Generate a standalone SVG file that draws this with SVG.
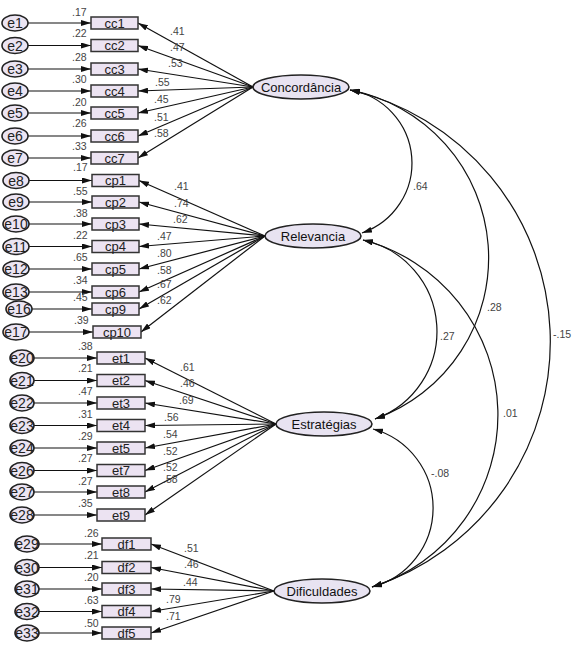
<svg xmlns="http://www.w3.org/2000/svg" width="578" height="662" viewBox="0 0 578 662">
<defs>
<marker id="ah" viewBox="0 0 10 6" refX="10" refY="3" markerWidth="10" markerHeight="6" markerUnits="userSpaceOnUse" orient="auto-start-reverse"><path d="M0,0 L10,3 L0,6 z" fill="#111"/></marker>
</defs>
<style>
.err{fill:#ebe4f2;stroke:#222;stroke-width:1.6}
.box{fill:#ece3f2;stroke:#333;stroke-width:1.5}
.lat{fill:#e8e3f1;stroke:#222;stroke-width:1.6}
.et{font-family:"Liberation Sans",Arial,sans-serif;font-size:14px;fill:#222;text-anchor:middle}
.bt{font-family:"Liberation Sans",Arial,sans-serif;font-size:13px;fill:#222;text-anchor:middle}
.lt{font-family:"Liberation Sans",Arial,sans-serif;font-size:13px;fill:#111;text-anchor:middle}
.num{font-family:"Liberation Sans",Arial,sans-serif;font-size:10.5px;fill:#444}
.c path{fill:none;stroke:#111;stroke-width:1.2}
.c .a{marker-end:url(#ah)}
.c .d{marker-start:url(#ah);marker-end:url(#ah)}
</style>
<rect width="578" height="662" fill="#fff"/>
<g id="connectors" class="c">
<path class="a" d="M28,23 H91"/><path class="a" d="M28,45.5 H91"/><path class="a" d="M28,69 H91"/><path class="a" d="M28,91 H91"/><path class="a" d="M28,113 H91"/><path class="a" d="M28,136 H91"/><path class="a" d="M28,158 H91"/>
<path class="a" d="M253,87 L138,23"/><path class="a" d="M253,87 L138,45.5"/><path class="a" d="M253,87 L138,69"/><path class="a" d="M253,87 L138,91"/><path class="a" d="M253,87 L138,113"/><path class="a" d="M253,87 L138,136"/><path class="a" d="M253,87 L138,158"/>
<path class="a" d="M29,180.5 H92"/><path class="a" d="M29,202 H92"/><path class="a" d="M29,224 H92"/><path class="a" d="M29,246.5 H92"/><path class="a" d="M29,269 H92"/><path class="a" d="M29,292 H92"/><path class="a" d="M32,309 H92"/><path class="a" d="M29,332 H93"/>
<path class="a" d="M265,236 L139,180.5"/><path class="a" d="M265,236 L139,202"/><path class="a" d="M265,236 L139,224"/><path class="a" d="M265,236 L139,246.5"/><path class="a" d="M265,236 L139,269"/><path class="a" d="M265,236 L139,292"/><path class="a" d="M265,236 L139,309"/><path class="a" d="M265,236 L141,332"/>
<path class="a" d="M34,358 H97"/><path class="a" d="M34,380.5 H97"/><path class="a" d="M34,403 H97"/><path class="a" d="M34,425.5 H97"/><path class="a" d="M34,448 H97"/><path class="a" d="M34,470.5 H97"/><path class="a" d="M34,492 H97"/><path class="a" d="M34,515 H97"/>
<path class="a" d="M276,424 L145,358"/><path class="a" d="M276,424 L145,380.5"/><path class="a" d="M276,424 L145,403"/><path class="a" d="M276,424 L145,425.5"/><path class="a" d="M276,424 L145,448"/><path class="a" d="M276,424 L145,470.5"/><path class="a" d="M276,424 L145,492"/><path class="a" d="M276,424 L145,515"/>
<path class="a" d="M39,544 H102"/><path class="a" d="M39,567.5 H102"/><path class="a" d="M39,589 H102"/><path class="a" d="M39,611.5 H102"/><path class="a" d="M39,633 H102"/>
<path class="a" d="M274,591 L151,544"/><path class="a" d="M274,591 L151,567.5"/><path class="a" d="M274,591 L151,589"/><path class="a" d="M274,591 L151,611.5"/><path class="a" d="M274,591 L151,633"/>
<path class="d" d="M350,90 A74,74 0 0 1 362,233"/>
<path class="d" d="M350,90 A171,171 0 0 1 375,419"/>
<path class="d" d="M363,240 A93.2,93.2 0 0 1 375,419"/>
<path class="d" d="M363,240 A180.7,180.7 0 0 1 372,587"/>
<path class="d" d="M350,90 A258.1,258.1 0 0 1 372,587"/>
<path class="d" d="M373,429 A81.8,81.8 0 0 1 372,587"/>
</g>
<g id="labels" class="num">
<text x="72" y="15.5">.17</text><text x="72" y="36.5">.22</text><text x="72" y="60.5">.28</text><text x="72" y="82.5">.30</text><text x="72" y="105.5">.20</text><text x="72" y="126.5">.26</text><text x="72" y="149.5">.33</text>
<text x="170" y="34.5">.41</text><text x="170" y="50.5">.47</text><text x="168" y="66.5">.53</text><text x="155" y="85.5">.55</text><text x="154" y="102.5">.45</text><text x="154" y="120.5">.51</text><text x="154" y="136.5">.58</text>
<text x="73" y="170.5">.17</text><text x="73" y="194.5">.55</text><text x="73" y="216.5">.38</text><text x="73" y="238.5">.22</text><text x="73" y="260.5">.65</text><text x="73" y="283.5">.34</text><text x="73" y="300.5">.45</text><text x="74" y="323.5">.39</text>
<text x="174" y="189.5">.41</text><text x="174" y="206.5">.74</text><text x="173" y="222.5">.62</text><text x="157" y="239.5">.47</text><text x="157" y="256.5">.80</text><text x="157" y="273.5">.58</text><text x="157" y="287.5">.67</text><text x="157" y="303.5">.62</text>
<text x="78" y="349.5">.38</text><text x="78" y="371.5">.21</text><text x="78" y="394.5">.47</text><text x="78" y="417.5">.31</text><text x="78" y="439.5">.29</text><text x="78" y="461.5">.27</text><text x="78" y="484.5">.27</text><text x="78" y="506.5">.35</text>
<text x="180" y="370.5">.61</text><text x="180" y="386.5">.46</text><text x="179" y="403.5">.69</text><text x="164" y="420.5">.56</text><text x="163" y="437.5">.54</text><text x="163" y="454.5">.52</text><text x="163" y="470.5">.52</text><text x="163" y="482.5">.58</text>
<text x="84" y="536.5">.26</text><text x="84" y="558.5">.21</text><text x="84" y="580.5">.20</text><text x="84" y="603.5">.63</text><text x="84" y="626.5">.50</text>
<text x="184" y="551.5">.51</text><text x="184" y="567.5">.46</text><text x="183" y="585.5">.44</text><text x="166" y="602.5">.79</text><text x="166" y="619.5">.71</text>
<text x="413" y="189.5">.64</text><text x="487" y="310.5">.28</text><text x="440" y="339.5">.27</text><text x="553" y="337.5">-.15</text><text x="503" y="416.5">.01</text><text x="431" y="476.5">-.08</text>
</g>
<g id="e1"><ellipse class="err" cx="15" cy="23" rx="13" ry="8"/><text class="et" x="15" y="28">e1</text></g>
<g id="e2"><ellipse class="err" cx="15" cy="45.5" rx="13" ry="8"/><text class="et" x="15" y="50.5">e2</text></g>
<g id="e3"><ellipse class="err" cx="15" cy="69" rx="13" ry="8"/><text class="et" x="15" y="74">e3</text></g>
<g id="e4"><ellipse class="err" cx="15" cy="91" rx="13" ry="8"/><text class="et" x="15" y="96">e4</text></g>
<g id="e5"><ellipse class="err" cx="15" cy="113" rx="13" ry="8"/><text class="et" x="15" y="118">e5</text></g>
<g id="e6"><ellipse class="err" cx="15" cy="136" rx="13" ry="8"/><text class="et" x="15" y="141">e6</text></g>
<g id="e7"><ellipse class="err" cx="15" cy="158" rx="13" ry="8"/><text class="et" x="15" y="163">e7</text></g>
<g id="e8"><ellipse class="err" cx="16" cy="180.5" rx="13" ry="8"/><text class="et" x="16" y="185.5">e8</text></g>
<g id="e9"><ellipse class="err" cx="16" cy="202" rx="13" ry="8"/><text class="et" x="16" y="207">e9</text></g>
<g id="e10"><ellipse class="err" cx="16" cy="224" rx="13" ry="8"/><text class="et" x="16" y="229">e10</text></g>
<g id="e11"><ellipse class="err" cx="16" cy="246.5" rx="13" ry="8"/><text class="et" x="16" y="251.5">e11</text></g>
<g id="e12"><ellipse class="err" cx="16" cy="269" rx="13" ry="8"/><text class="et" x="16" y="274">e12</text></g>
<g id="e13"><ellipse class="err" cx="16" cy="292" rx="13" ry="8"/><text class="et" x="16" y="297">e13</text></g>
<g id="e16"><ellipse class="err" cx="19" cy="309" rx="13" ry="8"/><text class="et" x="19" y="314">e16</text></g>
<g id="e17"><ellipse class="err" cx="16" cy="332" rx="13" ry="8"/><text class="et" x="16" y="337">e17</text></g>
<g id="e20"><ellipse class="err" cx="22" cy="358" rx="12" ry="8"/><text class="et" x="22" y="363">e20</text></g>
<g id="e21"><ellipse class="err" cx="22" cy="380.5" rx="12" ry="8"/><text class="et" x="22" y="385.5">e21</text></g>
<g id="e22"><ellipse class="err" cx="22" cy="403" rx="12" ry="8"/><text class="et" x="22" y="408">e22</text></g>
<g id="e23"><ellipse class="err" cx="22" cy="425.5" rx="12" ry="8"/><text class="et" x="22" y="430.5">e23</text></g>
<g id="e24"><ellipse class="err" cx="22" cy="448" rx="12" ry="8"/><text class="et" x="22" y="453">e24</text></g>
<g id="e26"><ellipse class="err" cx="22" cy="470.5" rx="12" ry="8"/><text class="et" x="22" y="475.5">e26</text></g>
<g id="e27"><ellipse class="err" cx="22" cy="492" rx="12" ry="8"/><text class="et" x="22" y="497">e27</text></g>
<g id="e28"><ellipse class="err" cx="22" cy="515" rx="12" ry="8"/><text class="et" x="22" y="520">e28</text></g>
<g id="e29"><ellipse class="err" cx="27" cy="544" rx="12" ry="8"/><text class="et" x="27" y="549">e29</text></g>
<g id="e30"><ellipse class="err" cx="27" cy="567.5" rx="12" ry="8"/><text class="et" x="27" y="572.5">e30</text></g>
<g id="e31"><ellipse class="err" cx="27" cy="589" rx="12" ry="8"/><text class="et" x="27" y="594">e31</text></g>
<g id="e32"><ellipse class="err" cx="27" cy="611.5" rx="12" ry="8"/><text class="et" x="27" y="616.5">e32</text></g>
<g id="e33"><ellipse class="err" cx="27" cy="633" rx="12" ry="8"/><text class="et" x="27" y="638">e33</text></g>
<g id="cc1"><rect class="box" x="91" y="17" width="47" height="12"/><text class="bt" x="114.5" y="27.5">cc1</text></g>
<g id="cc2"><rect class="box" x="91" y="39.5" width="47" height="12"/><text class="bt" x="114.5" y="50">cc2</text></g>
<g id="cc3"><rect class="box" x="91" y="63" width="47" height="12"/><text class="bt" x="114.5" y="73.5">cc3</text></g>
<g id="cc4"><rect class="box" x="91" y="85" width="47" height="12"/><text class="bt" x="114.5" y="95.5">cc4</text></g>
<g id="cc5"><rect class="box" x="91" y="107" width="47" height="12"/><text class="bt" x="114.5" y="117.5">cc5</text></g>
<g id="cc6"><rect class="box" x="91" y="130" width="47" height="12"/><text class="bt" x="114.5" y="140.5">cc6</text></g>
<g id="cc7"><rect class="box" x="91" y="152" width="47" height="12"/><text class="bt" x="114.5" y="162.5">cc7</text></g>
<g id="cp1"><rect class="box" x="92" y="174.5" width="47" height="12"/><text class="bt" x="115.5" y="185">cp1</text></g>
<g id="cp2"><rect class="box" x="92" y="196" width="47" height="12"/><text class="bt" x="115.5" y="206.5">cp2</text></g>
<g id="cp3"><rect class="box" x="92" y="218" width="47" height="12"/><text class="bt" x="115.5" y="228.5">cp3</text></g>
<g id="cp4"><rect class="box" x="92" y="240.5" width="47" height="12"/><text class="bt" x="115.5" y="251">cp4</text></g>
<g id="cp5"><rect class="box" x="92" y="263" width="47" height="12"/><text class="bt" x="115.5" y="273.5">cp5</text></g>
<g id="cp6"><rect class="box" x="92" y="286" width="47" height="12"/><text class="bt" x="115.5" y="296.5">cp6</text></g>
<g id="cp9"><rect class="box" x="92" y="303" width="47" height="12"/><text class="bt" x="115.5" y="313.5">cp9</text></g>
<g id="cp10"><rect class="box" x="93" y="326" width="48" height="12"/><text class="bt" x="117" y="336.5">cp10</text></g>
<g id="et1"><rect class="box" x="97" y="352" width="48" height="12"/><text class="bt" x="121" y="362.5">et1</text></g>
<g id="et2"><rect class="box" x="97" y="374.5" width="48" height="12"/><text class="bt" x="121" y="385">et2</text></g>
<g id="et3"><rect class="box" x="97" y="397" width="48" height="12"/><text class="bt" x="121" y="407.5">et3</text></g>
<g id="et4"><rect class="box" x="97" y="419.5" width="48" height="12"/><text class="bt" x="121" y="430">et4</text></g>
<g id="et5"><rect class="box" x="97" y="442" width="48" height="12"/><text class="bt" x="121" y="452.5">et5</text></g>
<g id="et7"><rect class="box" x="97" y="464.5" width="48" height="12"/><text class="bt" x="121" y="475">et7</text></g>
<g id="et8"><rect class="box" x="97" y="486" width="48" height="12"/><text class="bt" x="121" y="496.5">et8</text></g>
<g id="et9"><rect class="box" x="97" y="509" width="48" height="12"/><text class="bt" x="121" y="519.5">et9</text></g>
<g id="df1"><rect class="box" x="102" y="538" width="49" height="12"/><text class="bt" x="126.5" y="548.5">df1</text></g>
<g id="df2"><rect class="box" x="102" y="561.5" width="49" height="12"/><text class="bt" x="126.5" y="572">df2</text></g>
<g id="df3"><rect class="box" x="102" y="583" width="49" height="12"/><text class="bt" x="126.5" y="593.5">df3</text></g>
<g id="df4"><rect class="box" x="102" y="605.5" width="49" height="12"/><text class="bt" x="126.5" y="616">df4</text></g>
<g id="df5"><rect class="box" x="102" y="627" width="49" height="12"/><text class="bt" x="126.5" y="637.5">df5</text></g>
<g id="Concordancia"><ellipse class="lat" cx="301" cy="87" rx="48" ry="12"/><text class="lt" x="301" y="91.5">Concordância</text></g>
<g id="Relevancia"><ellipse class="lat" cx="313" cy="236" rx="48" ry="12"/><text class="lt" x="313" y="240.5">Relevancia</text></g>
<g id="Estrategias"><ellipse class="lat" cx="324" cy="424" rx="48" ry="12"/><text class="lt" x="324" y="428.5">Estratégias</text></g>
<g id="Dificuldades"><ellipse class="lat" cx="322" cy="591" rx="48" ry="12"/><text class="lt" x="322" y="595.5">Dificuldades</text></g>
</svg>
